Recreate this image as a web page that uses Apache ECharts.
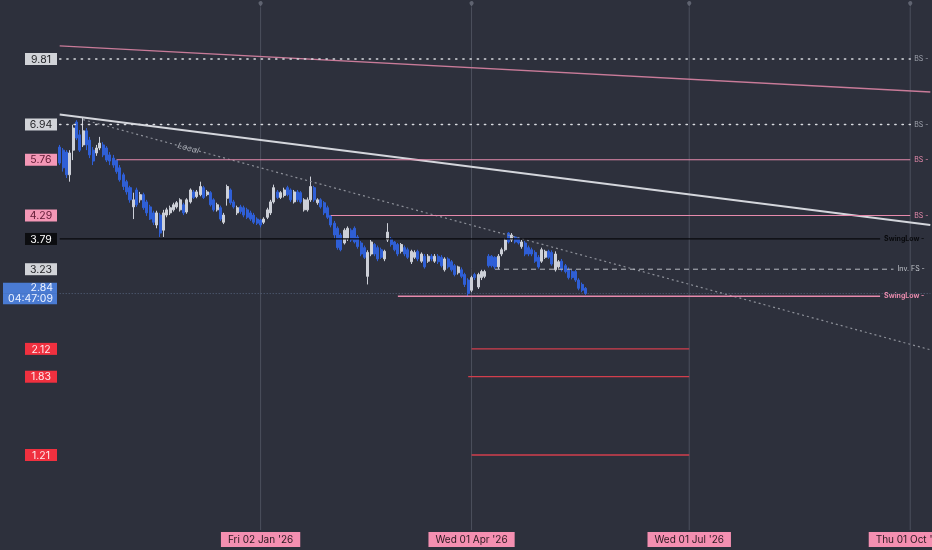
<!DOCTYPE html>
<html>
<head>
<meta charset="utf-8">
<script src="https://cdn.jsdelivr.net/npm/echarts@6/dist/echarts.min.js"></script>
<style>
  html, body { margin: 0; padding: 0; background: #2d303c; }
  #chart { width: 932px; height: 550px; }
</style>
</head>
<body>
<div id="chart"></div>
<script>
// bars are weekdays only, evenly spaced (projected into the future like the source platform)
const firstBar = '2025-10-10';
const barCount = 261;
const dateTicks = ['2026-01-02', '2026-04-01', '2026-07-01', '2026-10-01'];

// [open, close, low, high]
const ohlc = [
  [6.16,5.66,5.60,6.23],[6.06,5.52,5.41,6.13],[6.00,5.32,5.23,6.06],[5.32,5.97,5.13,6.06],[6.06,6.81,5.75,6.93],
  [7.03,6.46,6.39,7.10],[6.57,6.06,6.00,6.74],[6.23,6.71,6.16,7.18],[6.71,6.23,6.06,6.81],[6.39,5.91,5.81,6.50],
  [6.06,5.72,5.60,6.16],[5.97,6.13,5.88,6.23],[6.13,6.29,6.06,6.50],[6.23,5.91,5.84,6.32],[6.13,5.75,5.69,6.19],
  [5.91,5.72,5.60,6.00],[5.81,5.60,5.52,5.91],[5.74,5.41,5.35,5.76],[5.52,5.18,5.13,5.60],[5.32,5.00,4.91,5.38],
  [5.13,4.86,4.79,5.18],[4.97,4.66,4.59,5.02],[4.49,4.66,4.21,4.84],[4.91,4.54,4.49,4.97],[4.66,4.79,4.59,4.86],
  [4.79,4.47,4.42,4.84],[4.61,4.35,4.28,4.66],[4.49,4.21,4.19,4.54],[4.35,4.14,4.08,4.40],[4.08,4.35,4.01,4.40],
  [4.30,3.91,3.83,4.35],[3.97,4.35,3.83,4.42],[4.30,4.42,4.25,4.47],[4.35,4.47,4.30,4.52],[4.42,4.54,4.38,4.59],
  [4.49,4.59,4.45,4.63],[4.42,4.66,4.38,4.70],[4.54,4.35,4.30,4.59],[4.37,4.66,4.33,4.70],[4.61,4.91,4.57,4.95],
  [4.86,4.72,4.68,4.91],[4.74,4.86,4.70,4.91],[4.79,5.00,4.75,5.13],[4.97,4.72,4.68,5.02],[4.79,4.86,4.75,4.91],
  [4.84,4.54,4.50,4.88],[4.66,4.42,4.38,4.70],[4.42,4.54,4.38,4.59],[4.47,4.21,4.17,4.52],[4.14,4.30,4.10,4.35],
  [4.70,5.00,4.52,5.05],[4.91,4.59,4.54,4.95],[4.61,4.49,4.45,4.66],[4.35,4.47,4.30,4.52],[4.49,4.38,4.33,4.54],
  [4.47,4.30,4.25,4.52],[4.42,4.25,4.21,4.47],[4.35,4.21,4.17,4.40],[4.30,4.14,4.10,4.35],[4.21,4.12,4.08,4.25],
  [4.19,4.08,4.03,4.21],[4.14,4.21,4.10,4.25],[4.25,4.42,4.21,4.47],[4.35,4.61,4.30,4.66],[4.61,4.97,4.57,5.05],
  [4.86,4.72,4.68,4.91],[4.72,4.84,4.68,4.88],[4.77,4.91,4.72,4.97],[4.97,4.79,4.75,5.02],[4.91,4.66,4.61,4.95],
  [4.61,4.86,4.57,4.91],[4.86,4.66,4.61,4.91],[4.84,4.61,4.57,4.88],[4.42,4.66,4.38,4.70],[4.42,4.66,4.38,4.72],
  [4.66,5.00,4.61,5.27],[4.97,4.66,4.61,5.02],[4.59,4.66,4.54,4.70],[4.66,4.49,4.45,4.70],[4.59,4.35,4.30,4.63],
  [4.47,4.25,4.21,4.52],[4.29,4.08,4.03,4.29],[4.12,3.87,3.80,4.17],[4.01,3.62,3.58,4.05],[3.87,3.58,3.55,3.91],
  [3.71,3.97,3.68,4.01],[3.79,4.01,3.75,4.05],[3.97,3.77,3.73,4.01],[4.01,3.73,3.70,4.05],[3.83,3.64,3.60,3.87],
  [3.71,3.50,3.46,3.75],[3.62,3.44,3.41,3.66],[3.11,3.53,2.98,3.57],[3.50,3.73,3.46,3.77],[3.68,3.50,3.46,3.71],
  [3.62,3.41,3.37,3.66],[3.58,3.44,3.41,3.62],[3.41,3.55,3.37,3.58],[3.77,3.93,3.73,4.12],[3.79,3.68,3.64,3.83],
  [3.73,3.58,3.55,3.75],[3.68,3.50,3.46,3.71],[3.55,3.68,3.51,3.71],[3.62,3.50,3.46,3.66],[3.58,3.44,3.41,3.62],
  [3.36,3.55,3.32,3.58],[3.44,3.53,3.41,3.57],[3.55,3.41,3.37,3.58],[3.37,3.50,3.34,3.53],[3.46,3.27,3.24,3.50],
  [3.37,3.46,3.34,3.50],[3.46,3.41,3.37,3.50],[3.37,3.46,3.34,3.50],[3.46,3.36,3.32,3.50],[3.44,3.29,3.26,3.48],
  [3.22,3.41,3.19,3.44],[3.41,3.27,3.24,3.44],[3.36,3.22,3.19,3.39],[3.29,3.14,3.11,3.32],[3.17,3.27,3.14,3.29],
  [3.22,3.11,3.08,3.26],[3.14,2.98,2.94,3.17],[3.05,2.84,2.80,3.08],[2.89,3.09,2.86,3.12],[3.14,3.09,3.05,3.17],
  [2.94,3.14,2.91,3.17],[3.09,3.19,3.05,3.22],[3.11,3.19,3.08,3.22],[3.46,3.29,3.26,3.50],[3.46,3.29,3.26,3.48],
  [3.44,3.27,3.23,3.46],[3.27,3.46,3.23,3.50],[3.50,3.58,3.46,3.62],[3.58,3.77,3.55,3.80],[3.91,3.73,3.70,3.93],
  [3.77,3.87,3.73,3.91],[3.83,3.73,3.70,3.85],[3.81,3.71,3.68,3.83],[3.64,3.73,3.60,3.77],[3.71,3.50,3.46,3.75],
  [3.62,3.50,3.46,3.66],[3.58,3.50,3.46,3.62],[3.53,3.37,3.34,3.57],[3.44,3.27,3.24,3.48],[3.37,3.58,3.34,3.62],
  [3.44,3.55,3.41,3.58],[3.55,3.44,3.41,3.58],[3.53,3.32,3.29,3.57],[3.22,3.50,3.19,3.55],[3.27,3.36,3.24,3.39],
  [3.37,3.22,3.19,3.41],[3.29,3.19,3.16,3.32],[3.22,3.09,3.06,3.26],[3.19,3.09,3.06,3.22],[3.19,3.05,3.02,3.22],
  [3.05,2.92,2.89,3.08],[2.98,2.89,2.86,3.01],[2.92,2.84,2.82,2.94]
];

// price tags on the left scale
const tagPrices = [9.81, 6.94, 5.76, 4.29, 3.79, 3.23, 2.84, 2.12, 1.83, 1.21];
const tagKinds  = ['grey', 'grey', 'pink', 'pink', 'black', 'grey', 'blue', 'red', 'red', 'red'];
const countdown = '04:47:09';
const lastPrice = 2.84;

// horizontal levels
const levelNames  = ['BS', 'BS', 'BS', 'BS', 'SwingLow', 'Inv. FS', 'SwingLow'];
const levelPrices = [9.81, 6.94, 5.76, 4.29, 3.79, 3.23, 2.80];
const levelFrom   = ['2025-10-10', '2025-10-10', '2025-11-04', '2026-02-02', '2025-10-10', '2026-04-10', '2026-03-02'];
const levelTo     = ['2026-10-01', '2026-10-01', '2026-10-01', '2026-10-01', '2026-09-18', '2026-09-24', '2026-09-18'];

// target lines (red)
const targetPrices = [2.12, 1.83, 1.21];
const targetFrom   = ['2026-04-01', '2026-03-31', '2026-04-01'];
const targetTo     = '2026-07-01';

// trend lines: [date, price] pairs
const trendNames = ['upper', 'main', 'Local'];
const trendFrom  = [['2025-10-10', 10.52], ['2025-10-10', 7.32], ['2025-10-21', 7.12]];
const trendTo    = [['2026-10-09', 8.24], ['2026-10-09', 4.08], ['2026-10-09', 2.11]];

const yMin = 0.814, yMax = 13.4, pinPrice = 12.9;

// build weekday categories
const dates = [];
const cur = new Date(firstBar + 'T00:00:00Z');
while (dates.length < barCount) {
  const wd = cur.getUTCDay();
  if (wd !== 0 && wd !== 6) dates.push(cur.toISOString().slice(0, 10));
  cur.setUTCDate(cur.getUTCDate() + 1);
}

const DAYS = ['Sun', 'Mon', 'Tue', 'Wed', 'Thu', 'Fri', 'Sat'];
const MONS = ['Jan', 'Feb', 'Mar', 'Apr', 'May', 'Jun', 'Jul', 'Aug', 'Sep', 'Oct', 'Nov', 'Dec'];
function fmtDate(s) {
  const d = new Date(s + 'T00:00:00Z');
  return DAYS[d.getUTCDay()] + ' ' + s.slice(8, 10) + ' ' + MONS[d.getUTCMonth()] + " '" + s.slice(2, 4);
}

const PINK = '#e68aac';
const FONT = 'Inter, "Liberation Sans", sans-serif';

function levelStyle(i) {
  const name = levelNames[i];
  if (i < 2) return { line: { color: '#d9dbe0', width: 1.6, type: [1.2, 6], cap: 'round' }, text: '#9fa3ad' };
  if (name === 'BS') return { line: { color: PINK, width: 1.2, type: 'solid' }, text: PINK };
  if (name === 'Inv. FS') return { line: { color: '#b7bac2', width: 1, type: [5, 4] }, text: '#c3c6cd' };
  if (levelPrices[i] > 3.5) return { line: { color: '#08090c', width: 1.3, type: 'solid' }, text: '#08090c' };
  return { line: { color: PINK, width: 1.3, type: 'solid' }, text: PINK };
}

function segment(data, lineStyle, extra) {
  return Object.assign({
    type: 'line', data, symbol: 'none', silent: true, lineStyle, z: 5,
    emphasis: { disabled: true }
  }, extra || {});
}

const series = [];

// date grid lines with a small pin on top
dateTicks.forEach(d => {
  series.push(segment(
    [{ value: [d, yMin], symbol: 'none' }, { value: [d, pinPrice], symbol: 'pin', symbolSize: 7 }],
    { color: '#4c505d', width: 1 },
    { showSymbol: true, itemStyle: { color: '#5f6370' }, z: 1 }
  ));
});

// last price line
series.push(segment([[dates[0], lastPrice], [dates[dates.length - 1], lastPrice]],
  { color: '#56647f', width: 1, type: [1, 2] }, { z: 1 }));

levelPrices.forEach((p, i) => {
  const st = levelStyle(i);
  series.push(segment([[levelFrom[i], p], [levelTo[i], p]], st.line, {
    color: st.line.color,
    endLabel: {
      show: true, distance: 4, formatter: levelNames[i] + ' -',
      color: st.text, fontSize: 7, fontWeight: levelNames[i] === 'SwingLow' ? 'bold' : 'normal', fontFamily: FONT
    }
  }));
});

targetPrices.forEach((p, i) => {
  series.push(segment([[targetFrom[i], p], [targetTo, p]], { color: '#d23e4c', width: 1.3 }, { color: '#d23e4c' }));
});

const trendStyles = [
  { color: '#c97b99', width: 1.3, type: 'solid' },
  { color: '#d4d6dc', width: 2, type: 'solid' },
  { color: '#8d9099', width: 1.2, type: [2, 3] }
];
const trendMarks = trendNames.map((n, i) => [
  {
    coord: trendFrom[i], lineStyle: trendStyles[i],
    label: n === 'Local'
      ? { show: true, position: 'insideStart', distance: [98, 0], formatter: 'Local', color: '#a9acb4', fontSize: 8.5, fontStyle: 'italic', fontFamily: FONT }
      : { show: false }
  },
  { coord: trendTo[i] }
]);

series.unshift({
  type: 'candlestick',
  data: ohlc,
  barWidth: '75%',
  z: 4,
  itemStyle: {
    color: '#cdd0d8', borderColor: '#cdd0d8',
    color0: '#2f5fd6', borderColor0: '#2f5fd6',
    borderWidth: 1
  },
  markLine: {
    silent: true,
    animation: false,
    symbol: ['none', 'none'],
    data: trendMarks
  }
});

const tagBase = { width: 22, align: 'center', padding: [1, 5, 0, 5], lineHeight: 11, fontSize: 10.5, fontFamily: FONT };
const tagRich = {
  grey:  Object.assign({ backgroundColor: '#d1d3d8', color: '#1f2024' }, tagBase),
  pink:  Object.assign({ backgroundColor: '#f497b6', color: '#5e1a33' }, tagBase),
  black: Object.assign({ backgroundColor: '#0c0d10', color: '#ffffff' }, tagBase),
  red:   Object.assign({ backgroundColor: '#f0303f', color: '#fde7ea' }, tagBase),
  blue:  { backgroundColor: '#4a7bd3', color: '#eef3ff', width: 46, align: 'right', padding: [0, 4, 0, 4], lineHeight: 10.5, fontSize: 10.5, fontFamily: FONT }
};

const option = {
  backgroundColor: '#2d303c',
  animation: false,
  grid: { left: 58, right: 0, top: 0, bottom: 20, outerBoundsMode: 'none' },
  xAxis: {
    type: 'category',
    data: dates,
    axisLine: { show: false, onZero: false },
    axisTick: { show: false },
    splitLine: { show: false },
    axisLabel: {
      customValues: dateTicks.map(d => dates.indexOf(d)),
      hideOverlap: false,
      formatter: v => fmtDate(typeof v === 'number' ? dates[v] : v),
      margin: 2,
      color: '#2a1820',
      backgroundColor: '#f48fb1',
      padding: [3, 7, 2, 7],
      fontSize: 10,
      fontFamily: FONT
    }
  },
  yAxis: {
    type: 'log',
    logBase: 10,
    min: yMin,
    max: yMax,
    position: 'left',
    axisLine: { show: false },
    axisTick: { show: false },
    splitLine: { show: false },
    axisLabel: {
      customValues: tagPrices,
      margin: 1,
      formatter: v => {
        const k = tagPrices.findIndex(p => Math.abs(p - v) < 0.006);
        if (k < 0) return '';
        const kind = tagKinds[k];
        const txt = tagPrices[k].toFixed(2);
        if (kind === 'blue') return '{blue|' + txt + '}\n{blue|' + countdown + '}';
        return '{' + kind + '|' + txt + '}';
      },
      rich: tagRich
    }
  },
  series
};

const chart = echarts.init(document.getElementById('chart'));
chart.setOption(option);
</script>
</body>
</html>
